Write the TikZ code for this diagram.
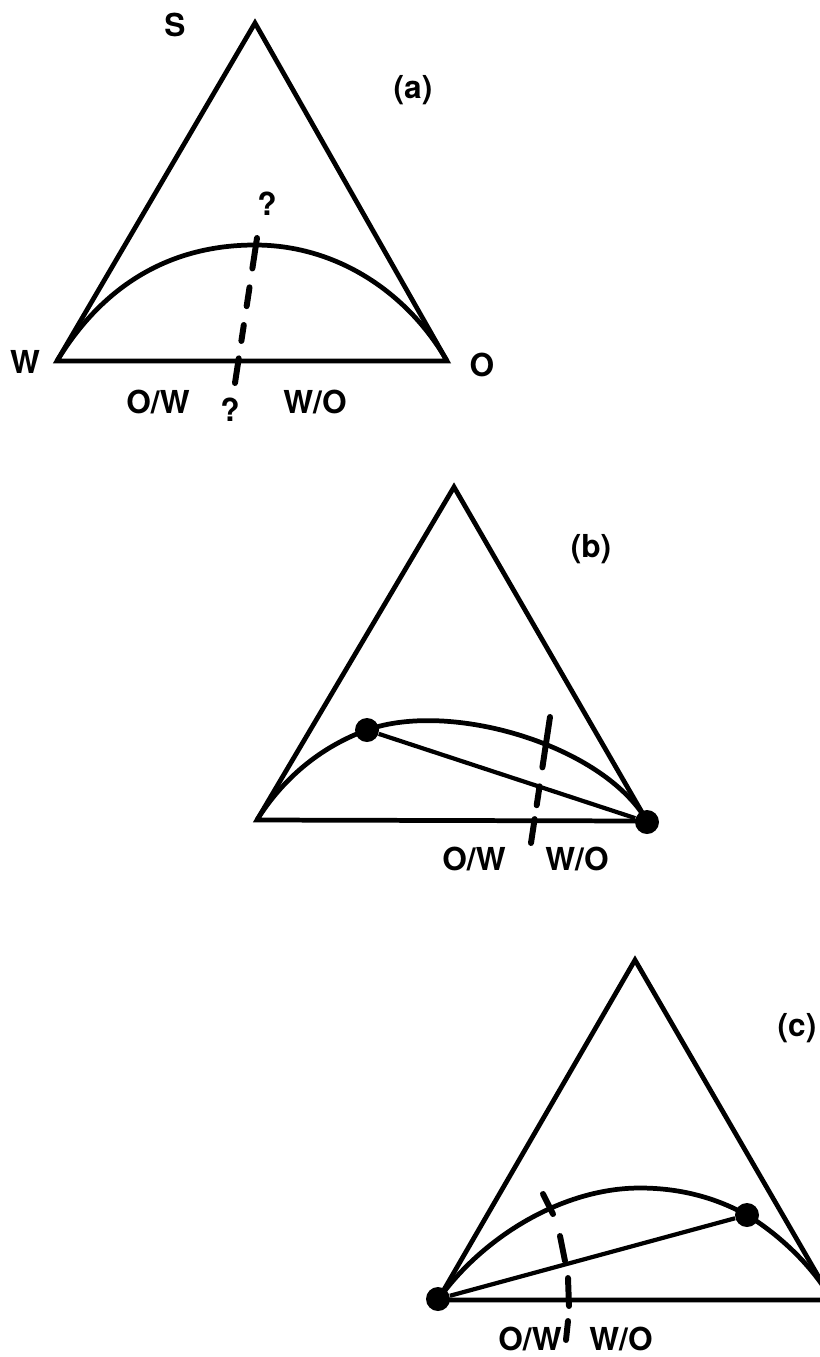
\documentclass[tikz,border=0pt]{standalone}
\usepackage{fontspec}
\setmainfont{TeX Gyre Heros}
\usetikzlibrary{calc}
\tikzset{
    every node/.style={font=\fontsize{18}{20}\selectfont\bfseries, inner sep=0pt},
    side/.style={line width=2.7pt, line join=miter},
    binodal/.style={line width=2.7pt},
    tieline/.style={line width=2.4pt},
    tickmark/.style={line width=3.4pt, line cap=round},
    phase/.style={circle, fill=black, inner sep=0pt, minimum size=0.48cm},
}

\begin{document}
\begin{tikzpicture}[x=0.02cm, y=-0.02cm]
\useasboundingbox (0,0) rectangle (820,1357);
\clip (0,0) rectangle (820,1357);

% ── (a) ────────────────────────────────────────────────────────────
\coordinate (aS) at (255,23);
\coordinate (aW) at (57,361);
\coordinate (aO) at (447,361);
\coordinate (aq1) at (257,238);
\coordinate (aq2) at (235,383);

\draw[side] (aW) -- (aS) -- (aO) -- cycle;
\draw[binodal] (aW) .. controls (100,290) and (165,245) .. (255,245)
    .. controls (340,245) and (410,296) .. (aO);
\foreach \a/\b in {0/0.21, 0.34/0.47, 0.60/0.71, 0.83/1}
    \draw[tickmark] ($(aq1)!\a!(aq2)$) -- ($(aq1)!\b!(aq2)$);

\node (lS) at (175,25) {S};
\node (la) at (413,90) {(a)};
\node (lW) at (25,362) {W};
\node (lO) at (482,365) {O};
\node (aqt) at (267,204) {?};
\node (aqb) at (230,410) {?};
\node (aow) at (158,402) {O/W};
\node (awo) at (315,402) {W/O};

% ── (b) ────────────────────────────────────────────────────────────
\coordinate (bS) at (454,487);
\coordinate (bL) at (257,820);
\coordinate (bR) at (647,821);
\coordinate (bq1) at (550,717);
\coordinate (bq2) at (531,843);

\draw[side] (bL) -- (bS) -- (bR) -- cycle;
\node[phase] (bdot) at (367,730) {};
\node[phase] (bRdot) at (647,822) {};
\draw[binodal] (bL) .. controls (285,775) and (325,745) .. (bdot.center)
    .. controls (450,700) and (603,745) .. (bR);
\draw[tieline] (bdot) -- (bRdot);
\foreach \a/\b in {0/0.40, 0.55/0.70, 0.81/1}
    \draw[tickmark] ($(bq1)!\a!(bq2)$) -- ($(bq1)!\b!(bq2)$);

\node (lb) at (591,549) {(b)};
\node (bow) at (474,859) {O/W};
\node (bwo) at (577,859) {W/O};

% ── (c) ────────────────────────────────────────────────────────────
\coordinate (cS) at (635,960);
\coordinate (cL) at (438,1300);
\coordinate (cR) at (832,1300);

\draw[side] (cL) -- (cS) -- (cR) -- cycle;
\node[phase] (cLdot) at (438,1299) {};
\node[phase] (cdot) at (747,1215) {};
\draw[binodal] (cL) .. controls (480,1240) and (560,1188) .. (640,1188)
    .. controls (690,1188) and (725,1203) .. (cdot.center)
    .. controls (775,1232) and (810,1262) .. (cR);
\draw[tieline] (cLdot) -- (cdot);
\foreach \xa/\ya/\xb/\yb in {543/1194/553/1214, 560/1236/565/1261,
                             568/1278/569/1306, 568/1321/566/1340}
    \draw[tickmark] (\xa,\ya) -- (\xb,\yb);

\node (lc) at (797,1028) {(c)};
\node (cow) at (530,1339) {O/W};
\node (cwo) at (621,1339) {W/O};

\end{tikzpicture}
\end{document}
